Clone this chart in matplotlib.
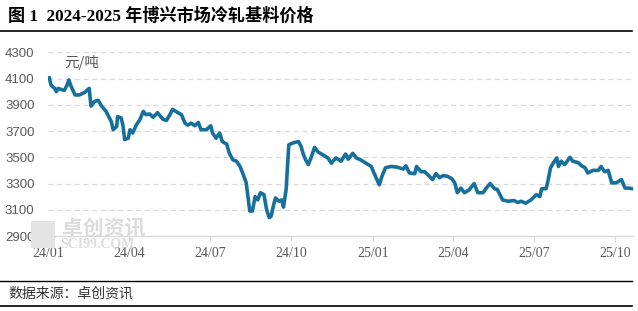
import matplotlib
matplotlib.use("Agg")
import matplotlib.pyplot as plt
import matplotlib.dates as mdates
import pandas as pd
from matplotlib.patches import Rectangle

plt.rcParams['font.family'] = ['Noto Sans CJK SC', 'DejaVu Sans']

# 博兴市场冷轧基料价格 (元/吨)
dates = [
    "2024-01-02", "2024-01-04", "2024-01-08", "2024-01-10", "2024-01-12", "2024-01-16",
    "2024-01-19", "2024-01-22", "2024-01-24", "2024-01-26", "2024-01-31", "2024-02-05",
    "2024-02-11", "2024-02-16", "2024-02-18", "2024-02-22", "2024-02-26", "2024-03-01",
    "2024-03-06", "2024-03-12", "2024-03-14", "2024-03-18", "2024-03-19", "2024-03-23",
    "2024-03-25", "2024-03-27", "2024-03-31", "2024-04-02", "2024-04-05", "2024-04-09",
    "2024-04-13", "2024-04-17", "2024-04-20", "2024-04-24", "2024-04-28", "2024-05-03",
    "2024-05-09", "2024-05-13", "2024-05-17", "2024-05-20", "2024-05-26", "2024-05-30",
    "2024-06-03", "2024-06-06", "2024-06-10", "2024-06-14", "2024-06-18", "2024-06-21",
    "2024-06-27", "2024-07-02", "2024-07-04", "2024-07-08", "2024-07-12", "2024-07-15",
    "2024-07-20", "2024-07-23", "2024-07-27", "2024-07-31", "2024-08-04", "2024-08-07",
    "2024-08-11", "2024-08-15", "2024-08-18", "2024-08-21", "2024-08-24", "2024-08-27",
    "2024-08-31", "2024-09-03", "2024-09-06", "2024-09-08", "2024-09-11", "2024-09-13",
    "2024-09-17", "2024-09-20", "2024-09-22", "2024-09-25", "2024-09-28", "2024-10-03",
    "2024-10-09", "2024-10-12", "2024-10-14", "2024-10-17", "2024-10-20", "2024-10-23",
    "2024-10-27", "2024-10-31", "2024-11-05", "2024-11-11", "2024-11-15", "2024-11-20",
    "2024-11-26", "2024-12-01", "2024-12-04", "2024-12-09", "2024-12-13", "2024-12-18",
    "2024-12-24", "2024-12-30", "2025-01-02", "2025-01-08", "2025-01-11", "2025-01-15",
    "2025-01-21", "2025-01-28", "2025-02-04", "2025-02-07", "2025-02-11", "2025-02-17",
    "2025-02-19", "2025-02-24", "2025-02-28", "2025-03-04", "2025-03-09", "2025-03-13",
    "2025-03-17", "2025-03-21", "2025-03-26", "2025-03-31", "2025-04-03", "2025-04-06",
    "2025-04-10", "2025-04-14", "2025-04-19", "2025-04-25", "2025-04-29", "2025-05-05",
    "2025-05-08", "2025-05-13", "2025-05-18", "2025-05-21", "2025-05-27", "2025-06-02",
    "2025-06-09", "2025-06-13", "2025-06-17", "2025-06-22", "2025-06-28", "2025-07-04",
    "2025-07-08", "2025-07-10", "2025-07-15", "2025-07-17", "2025-07-20", "2025-07-23",
    "2025-07-27", "2025-07-29", "2025-08-01", "2025-08-05", "2025-08-11", "2025-08-14",
    "2025-08-20", "2025-08-24", "2025-08-28", "2025-08-31", "2025-09-06", "2025-09-12",
    "2025-09-15", "2025-09-19", "2025-09-23", "2025-09-27", "2025-10-02", "2025-10-08",
    "2025-10-12", "2025-10-16", "2025-10-21",
]
prices = [
    4105, 4050, 4025, 4000, 4025, 4015,
    4010, 4050, 4090, 4050, 3975, 3975,
    3995, 4025, 3890, 3925, 3935, 3890,
    3850, 3770, 3710, 3735, 3810, 3800,
    3745, 3635, 3645, 3710, 3685, 3745,
    3785, 3850, 3825, 3830, 3805, 3840,
    3790, 3780, 3825, 3865, 3840, 3825,
    3760, 3745, 3760, 3740, 3765, 3710,
    3710, 3740, 3685, 3645, 3685, 3620,
    3600, 3530, 3480, 3470, 3430, 3380,
    3305, 3090, 3090, 3200, 3175, 3230,
    3215, 3100, 3040, 3050, 3140, 3190,
    3165, 3175, 3120, 3255, 3595, 3610,
    3620, 3580, 3530, 3480, 3445, 3495,
    3575, 3540, 3520, 3495, 3455, 3495,
    3470, 3525, 3485, 3530, 3495, 3480,
    3455, 3430, 3380, 3290, 3355, 3420,
    3430, 3425, 3410, 3435, 3380, 3375,
    3430, 3390, 3390, 3365, 3330, 3375,
    3345, 3360, 3355, 3335, 3305, 3230,
    3265, 3230, 3250, 3300, 3230, 3230,
    3260, 3300, 3260, 3255, 3175, 3165,
    3170, 3155, 3165, 3150, 3175, 3215,
    3200, 3260, 3260, 3315, 3420, 3455,
    3495, 3430, 3470, 3445, 3500, 3470,
    3460, 3435, 3420, 3380, 3400, 3400,
    3430, 3390, 3400, 3305, 3305, 3330,
    3265, 3265, 3260,
]
yticks = [2900, 3100, 3300, 3500, 3700, 3900, 4100, 4300]
xtick_dates = ["2024-01-01", "2024-04-01", "2024-07-01", "2024-10-01",
               "2025-01-01", "2025-04-01", "2025-07-01", "2025-10-01"]

W, H = 638, 311
fig = plt.figure(figsize=(W / 100, H / 100), dpi=100)
ax = fig.add_axes([48.4 / W, 1 - 236 / H, (633 - 48.4) / W, (236 - 52.3) / H])

x = pd.to_datetime(dates)
ax.plot(x, prices, color='#17709c', linewidth=2.6, solid_joinstyle='round', zorder=3)

ax.set_xlim(pd.Timestamp("2024-01-01"), pd.Timestamp("2025-10-21"))
ax.set_ylim(2900, 4300)
ax.set_yticks(yticks)
ax.set_xticks(pd.to_datetime(xtick_dates))
ax.xaxis.set_major_formatter(mdates.DateFormatter('%y/%m'))

for t in yticks[1:]:
    ax.axhline(t, color='#d9d9d9', linewidth=0.9, linestyle=(0, (4, 3)), zorder=1)

for s in ['top', 'right', 'left']:
    ax.spines[s].set_visible(False)
ax.spines['bottom'].set_color('#d9d9d9')
ax.spines['bottom'].set_linewidth(1)

ax.tick_params(axis='y', length=0, pad=10, labelsize=9.5, labelcolor='#595959')
ax.tick_params(axis='x', length=4, color='#d9d9d9', pad=4, labelsize=10, labelcolor='#595959')
for lb in ax.get_yticklabels():
    lb.set_fontfamily('Liberation Sans')
for lb in ax.get_xticklabels():
    lb.set_fontfamily('Liberation Serif')

ax.text(64 / W, 1 - 62.5 / H, '元/吨', transform=fig.transFigure, fontsize=10.5,
        color='#595959', va='center', ha='left')

# watermark (sits behind the axis labels, as in the source image)
fig.patches.append(Rectangle((31 / W, 1 - 248 / H), 24 / W, 27 / H, transform=fig.transFigure,
                             facecolor='#e3e3e3', edgecolor='none', zorder=0))
fig.text(62 / W, 1 - 229 / H, '卓创资讯', fontsize=15, color='#dcdcdc', fontweight='bold',
         va='center', ha='left', zorder=0)
fig.text(60 / W, 1 - 244 / H, 'SCI99.COM', fontsize=10, color='#dcdcdc', fontweight='bold',
         va='center', ha='left', family='Liberation Serif', zorder=0)

# title and source
fig.text(8 / W, 1 - 16 / H, '图 1  2024-2025 年博兴市场冷轧基料价格', fontsize=12.3,
         fontweight='bold', va='center', ha='left', color='black',
         family=['Liberation Serif', 'Noto Sans CJK SC'])
fig.add_artist(plt.Line2D([0, 632 / W], [1 - 31 / H, 1 - 31 / H], color='black', linewidth=1.2,
                          transform=fig.transFigure))
fig.add_artist(plt.Line2D([0, 632 / W], [1 - 281 / H, 1 - 281 / H], color='black', linewidth=1.0,
                          transform=fig.transFigure))
fig.add_artist(plt.Line2D([0, 632 / W], [1 - 306 / H, 1 - 306 / H], color='black', linewidth=1.2,
                          transform=fig.transFigure))
fig.text(8 / W, 1 - 294 / H, '数据来源：卓创资讯', fontsize=10, va='center', ha='left',
         color='#333333')

fig.savefig('out.png', dpi=100)
